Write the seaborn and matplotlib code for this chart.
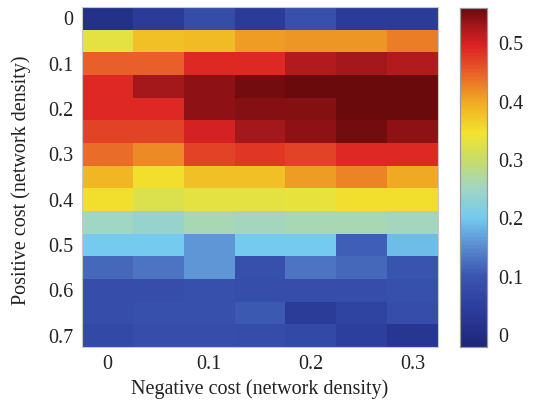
import numpy as np
import pandas as pd
import matplotlib
matplotlib.use("Agg")
import matplotlib.pyplot as plt
from matplotlib.colors import LinearSegmentedColormap
import seaborn as sns

# Cost thresholds (network density)
positive_cost = [0.0, 0.05, 0.1, 0.15, 0.2, 0.25, 0.3, 0.35, 0.4, 0.45, 0.5, 0.55, 0.6, 0.65, 0.7]
negative_cost = [0.0, 0.05, 0.1, 0.15, 0.2, 0.25, 0.3]

# One row per positive cost, one column per negative cost
row_000 = [0.01, 0.04, 0.08, 0.04, 0.09, 0.04, 0.04]
row_005 = [0.33, 0.38, 0.385, 0.41, 0.415, 0.415, 0.43]
row_010 = [0.45, 0.45, 0.49, 0.49, 0.52, 0.53, 0.52]
row_015 = [0.49, 0.53, 0.54, 0.555, 0.56, 0.56, 0.56]
row_020 = [0.49, 0.49, 0.54, 0.545, 0.545, 0.56, 0.56]
row_025 = [0.47, 0.47, 0.50, 0.53, 0.54, 0.555, 0.54]
row_030 = [0.44, 0.42, 0.47, 0.48, 0.47, 0.49, 0.49]
row_035 = [0.39, 0.35, 0.38, 0.38, 0.41, 0.425, 0.40]
row_040 = [0.35, 0.32, 0.33, 0.33, 0.335, 0.35, 0.35]
row_045 = [0.25, 0.24, 0.26, 0.255, 0.26, 0.26, 0.255]
row_050 = [0.20, 0.20, 0.16, 0.20, 0.20, 0.11, 0.19]
row_055 = [0.12, 0.13, 0.16, 0.09, 0.13, 0.12, 0.10]
row_060 = [0.085, 0.085, 0.09, 0.085, 0.085, 0.085, 0.09]
row_065 = [0.085, 0.09, 0.09, 0.105, 0.04, 0.06, 0.085]
row_070 = [0.075, 0.085, 0.085, 0.08, 0.075, 0.05, 0.025]

x_ticklabels = ["0", "0.1", "0.2", "0.3"]
y_ticklabels = ["0", "0.1", "0.2", "0.3", "0.4", "0.5", "0.6", "0.7"]
cbar_ticks = [0, 0.1, 0.2, 0.3, 0.4, 0.5]
cbar_ticklabels = ["0", "0.1", "0.2", "0.3", "0.4", "0.5"]

rows = [row_000, row_005, row_010, row_015, row_020, row_025, row_030, row_035,
        row_040, row_045, row_050, row_055, row_060, row_065, row_070]
df = pd.DataFrame(rows, index=positive_cost, columns=negative_cost)

# Muted jet-like palette
stops = [
    (0.00, "#1e2678"),
    (0.12, "#2d3f9e"),
    (0.21, "#3a55b0"),
    (0.30, "#5c8fd2"),
    (0.38, "#74caef"),
    (0.47, "#a2d6c2"),
    (0.55, "#c6dc6a"),
    (0.63, "#f2e42e"),
    (0.72, "#f0ae22"),
    (0.81, "#e8602a"),
    (0.89, "#dc2222"),
    (0.95, "#a3171b"),
    (1.00, "#6a0a0c"),
]
cmap = LinearSegmentedColormap.from_list("muted_jet", stops)

sns.set_theme(style="white")
plt.rcParams["font.family"] = ["Liberation Serif", "DejaVu Serif"]
FS = 14.5

fig = plt.figure(figsize=(5.39, 4.08), dpi=100)
W, H = 539, 408
AX_L, AX_R, AX_T, AX_B = 82, 438, 7, 347
ax = fig.add_axes([AX_L / W, 1 - AX_B / H, (AX_R - AX_L) / W, (AX_B - AX_T) / H])
cax = fig.add_axes([460 / W, 1 - 347 / H, (487 - 460) / W, (347 - 8) / H])

sns.heatmap(df, ax=ax, cmap=cmap, vmin=-0.02, vmax=0.56, cbar_ax=cax,
            cbar_kws={"ticks": cbar_ticks}, xticklabels=False, yticklabels=False)

ax.set_xticks([0.5, 2.5, 4.5, 6.5])
ax.set_xticklabels(x_ticklabels, fontsize=FS)
ax.set_yticks([0.5 + 2 * i for i in range(len(y_ticklabels))])
ax.set_yticklabels(y_ticklabels, fontsize=FS, rotation=0)
ax.tick_params(axis="both", direction="in", length=3, width=0.8, color="#333333",
               pad=6, labelcolor="#222222")
for sp in ax.spines.values():
    sp.set_visible(True)
    sp.set_color("#c8c8c8")
    sp.set_linewidth(0.8)

ax.set_xlabel("Negative cost (network density)", fontsize=FS, color="#222222", va="center")
ax.set_ylabel("Positive cost (network density)", fontsize=FS, color="#222222", va="center")
ax.xaxis.set_label_coords(0.5, -(389 - AX_B) / (AX_B - AX_T))
ax.yaxis.set_label_coords(-(AX_L - 21) / (AX_R - AX_L), 0.49)

cax.tick_params(direction="in", length=3, width=0.8, color="#333333", labelsize=FS,
                labelcolor="#222222", pad=8, left=True, right=True)
cax.set_yticklabels(cbar_ticklabels)
for sp in cax.spines.values():
    sp.set_visible(True)
    sp.set_color("#999999")
    sp.set_linewidth(0.8)

fig.savefig("out.png", dpi=100)
